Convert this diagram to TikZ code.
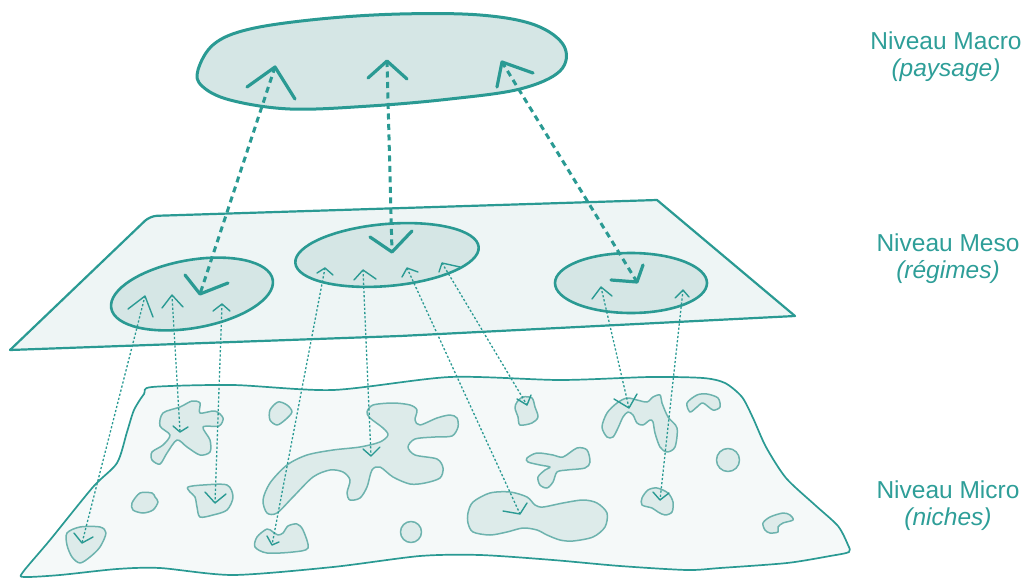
\documentclass[tikz,border=0pt]{standalone}
\usepackage{fontspec}
\setmainfont{Liberation Sans}
\usetikzlibrary{shapes.geometric}
\definecolor{tealline}{HTML}{2A9A93}
\definecolor{macrofill}{HTML}{D5E6E5}
\definecolor{mesofill}{HTML}{EEF5F5}
\definecolor{microfill}{HTML}{F5F9F9}
\definecolor{blobfill}{HTML}{DDEBEA}
\definecolor{blobline}{HTML}{6DB3AE}
\definecolor{labelc}{HTML}{2E9E98}
\begin{document}
\begin{tikzpicture}[x=1pt,y=-1pt,line join=round,line cap=round,
  planeline/.style={draw=tealline,line width=2.2pt},
  microline/.style={draw=tealline,line width=1.7pt,fill=microfill},
  blob/.style={draw=blobline,line width=1.5pt,fill=blobfill},
  regime/.style={ellipse,draw=tealline,line width=2.6pt,fill=macrofill,inner sep=0pt},
  bigdash/.style={draw=tealline,line width=3pt,line cap=butt,dash pattern=on 6pt off 4.5pt},
  bigchev/.style={draw=tealline,line width=3.2pt},
  smalldot/.style={draw=tealline,line width=1.3pt,line cap=butt,dash pattern=on 2.2pt off 2pt},
  smallchev/.style={draw=tealline,line width=1.4pt},
  lab/.style={text=labelc,align=center,font=\fontsize{24.5}{27}\selectfont,inner sep=0pt}]
\useasboundingbox (0,0) rectangle (1036,578);

% ---------- micro level plane ----------
\draw[microline] plot[smooth cycle,tension=0.45] coordinates {
 (152,387) (233,385) (333,390) (450,377) (560,380) (650,377) (703,378) (725,383)
 (742,397) (753,418) (766,447) (786,478) (815,505) (838,526) (848,545) (849,552)
 (830,556) (787,563) (720,568) (687,570) (620,566) (553,560) (480,555) (420,556)
 (333,567) (233,575) (160,568) (117,569) (60,575) (24,577) (23,572) (50,540)
 (93,487) (117,463) (127,432) (134,410) (144,394)};

% ---------- niches ----------
\draw[blob] plot[smooth cycle] coordinates {(163,413) (180,407) (192,401) (200,403) (200,413) (215,411) (223,418) (219,426) (203,427) (210,440) (210,452) (200,455) (187,447) (177,440) (167,453) (160,464) (152,460) (152,452) (163,445) (170,435) (160,426)};
\draw[blob] plot[smooth cycle] coordinates {(270,410) (278,402) (287,405) (292,412) (285,420) (277,425) (270,420)};
\draw[blob] plot[smooth cycle] coordinates {(132,503) (140,493) (152,493) (155,497) (158,502) (153,510) (143,513) (133,510)};
\draw[blob] plot[smooth cycle] coordinates {(188,487) (203,485) (227,485) (233,497) (227,510) (213,515) (200,517) (197,507) (195,497) (190,492)};
\draw[blob] plot[smooth cycle] coordinates {(67,533) (80,527) (100,527) (106,533) (100,547) (90,557) (80,563) (72,557) (67,545)};
\draw[blob] plot[smooth cycle] coordinates {(257,537) (267,529) (273,532) (278,535) (283,533) (288,526) (297,524) (303,530) (308,548) (293,552) (267,553) (255,547)};
\draw[blob] plot[smooth cycle] coordinates {(267,513) (263,500) (270,483) (287,465) (307,455) (333,450) (360,447) (380,442) (388,435) (383,428) (370,418) (367,412) (373,405) (393,403) (410,405) (417,410) (415,420) (420,425) (437,418) (450,415) (457,418) (458,427) (452,436) (435,437) (415,439) (408,447) (415,455) (437,459) (443,468) (440,478) (425,483) (410,484) (393,477) (380,467) (372,470) (367,487) (360,498) (350,500) (347,493) (350,480) (343,472) (330,470) (313,477) (293,497) (277,513)};
\draw[blob] (411,532) circle[radius=10.5pt];
\draw[blob] plot[smooth cycle] coordinates {(517,402) (523,397) (532,398) (535,407) (538,417) (532,423) (520,425) (518,417) (515,408)};
\draw[blob] plot[smooth cycle] coordinates {(602,427) (607,413) (617,403) (627,398) (637,400) (647,402) (653,397) (660,395) (662,403) (668,417) (677,428) (675,447) (667,452) (660,447) (655,433) (653,422) (650,420) (643,425) (637,423) (633,415) (628,412) (623,417) (618,428) (613,437) (607,437)};
\draw[blob] plot[smooth cycle] coordinates {(687,403) (697,395) (707,394) (718,398) (720,407) (713,410) (703,403) (697,407) (690,412)};
\draw[blob] (728,460) circle[radius=11.5pt];
\draw[blob] plot[smooth cycle] coordinates {(527,458) (537,453) (553,455) (563,457) (577,448) (587,450) (590,462) (585,468) (567,470) (557,472) (553,482) (547,488) (540,485) (538,477) (545,470) (550,467) (540,465) (528,462)};
\draw[blob] plot[smooth cycle] coordinates {(468,513) (473,502) (490,493) (510,492) (527,497) (535,505) (543,507) (563,503) (583,500) (597,503) (607,513) (605,527) (593,537) (573,541) (560,540) (547,535) (537,530) (523,528) (507,532) (490,535) (473,532) (468,523)};
\draw[blob] plot[smooth cycle] coordinates {(642,498) (648,490) (657,488) (668,493) (673,502) (672,512) (665,515) (658,512) (652,508) (642,505)};
\draw[blob] plot[smooth cycle] coordinates {(763,523) (770,517) (783,513) (790,515) (793,520) (783,523) (778,527) (778,532) (770,533) (765,530)};

% ---------- meso level plane ----------
\draw[planeline,fill=mesofill] (10,350) [rounded corners=7pt] -- (150,216) [sharp corners] -- (657,200) -- (795,316) -- (400,336) -- cycle;

\node[regime,minimum width=164pt,minimum height=68pt,rotate=10] (mesoL) at (192,294) {};
\node[regime,minimum width=184pt,minimum height=62pt,rotate=5] (mesoM) at (387,255) {};
\node[regime,minimum width=152pt,minimum height=60pt] (mesoR) at (631,283) {};

% ---------- macro level ----------
\draw[draw=tealline,line width=3pt,fill=macrofill] plot[smooth cycle,tension=0.6] coordinates {
 (198,70) (214,44) (250,29) (320,19) (400,14) (480,15) (535,25) (564,46) (560,71)
 (520,89) (450,99) (370,106) (290,109) (230,100) (202,86)};

% ---------- end points ----------
\coordinate (T1) at (275,67);
\coordinate (T2) at (387,61);
\coordinate (T3) at (502,62);
\coordinate (B1) at (200,294);
\coordinate (B2) at (392,252);
\coordinate (B3) at (637,282);

\coordinate (L1t) at (145,296); \coordinate (L1b) at (82,543);
\coordinate (L2t) at (172,295); \coordinate (L2b) at (180,432);
\coordinate (L3t) at (222,304); \coordinate (L3b) at (215,503);
\coordinate (M1t) at (325,268); \coordinate (M1b) at (272,545);
\coordinate (M2t) at (363,270); \coordinate (M2b) at (371,456);
\coordinate (M3t) at (407,268); \coordinate (M3b) at (520,514);
\coordinate (M4t) at (442,263); \coordinate (M4b) at (527,405);
\coordinate (R1t) at (601,287); \coordinate (R1b) at (629,408);
\coordinate (R2t) at (683,290); \coordinate (R2b) at (660,500);

% ---------- macro <-> meso connectors ----------
\draw[bigdash] (T1) -- (B1);
\draw[bigdash] (T2) -- (B2);
\draw[bigdash] (T3) -- (B3);
\draw[bigchev] ([shift={(-28,20)}]T1) -- (T1) -- ([shift={(20,32)}]T1);
\draw[bigchev] ([shift={(-19,17)}]T2) -- (T2) -- ([shift={(20,18)}]T2);
\draw[bigchev] ([shift={(-5,25)}]T3) -- (T3) -- ([shift={(31,11)}]T3);
\draw[bigchev] ([shift={(-15,-19)}]B1) -- (B1) -- ([shift={(28,-11)}]B1);
\draw[bigchev] ([shift={(-22,-15)}]B2) -- (B2) -- ([shift={(20,-21)}]B2);
\draw[bigchev] ([shift={(-26,-2)}]B3) -- (B3) -- ([shift={(6,-17)}]B3);

% ---------- meso <-> micro connectors ----------
\draw[smalldot] (L1t) -- (L1b);
\draw[smalldot] (L2t) -- (L2b);
\draw[smalldot] (L3t) -- (L3b);
\draw[smalldot] (M1t) -- (M1b);
\draw[smalldot] (M2t) -- (M2b);
\draw[smalldot] (M3t) -- (M3b);
\draw[smalldot] (M4t) -- (M4b);
\draw[smalldot] (R1t) -- (R1b);
\draw[smalldot] (R2t) -- (R2b);

\draw[smallchev] ([shift={(-17,13)}]L1t) -- (L1t) -- ([shift={(8,21)}]L1t);
\draw[smallchev] ([shift={(-8,-10)}]L1b) -- (L1b) -- ([shift={(11,-6)}]L1b);
\draw[smallchev] ([shift={(-10,13)}]L2t) -- (L2t) -- ([shift={(11,12)}]L2t);
\draw[smallchev] ([shift={(-7,-6)}]L2b) -- (L2b) -- ([shift={(8,-5)}]L2b);
\draw[smallchev] ([shift={(-9,7)}]L3t) -- (L3t) -- ([shift={(8,7)}]L3t);
\draw[smallchev] ([shift={(-10,-11)}]L3b) -- (L3b) -- ([shift={(11,-9)}]L3b);
\draw[smallchev] ([shift={(-8,5)}]M1t) -- (M1t) -- ([shift={(8,7)}]M1t);
\draw[smallchev] ([shift={(-5,-9)}]M1b) -- (M1b) -- ([shift={(7,-3)}]M1b);
\draw[smallchev] ([shift={(-9,10)}]M2t) -- (M2t) -- ([shift={(13,9)}]M2t);
\draw[smallchev] ([shift={(-8,-7)}]M2b) -- (M2b) -- ([shift={(9,-9)}]M2b);
\draw[smallchev] ([shift={(-5,9)}]M3t) -- (M3t) -- ([shift={(11,4)}]M3t);
\draw[smallchev] ([shift={(-17,-3)}]M3b) -- (M3b) -- ([shift={(7,-11)}]M3b);
\draw[smallchev] ([shift={(-3,9)}]M4t) -- (M4t) -- ([shift={(18,4)}]M4t);
\draw[smallchev] ([shift={(-10,-6)}]M4b) -- (M4b) -- ([shift={(4,-10)}]M4b);
\draw[smallchev] ([shift={(-9,12)}]R1t) -- (R1t) -- ([shift={(11,9)}]R1t);
\draw[smallchev] ([shift={(-15,-9)}]R1b) -- (R1b) -- ([shift={(8,-14)}]R1b);
\draw[smallchev] ([shift={(-8,8)}]R2t) -- (R2t) -- ([shift={(6,7)}]R2t);
\draw[smallchev] ([shift={(-7,-8)}]R2b) -- (R2b) -- ([shift={(9,-7)}]R2b);

% ---------- labels ----------
\node[lab] (labMacro) at (946,57) {Niveau Macro\\\textit{(paysage)}};
\node[lab] (labMeso) at (948,259) {Niveau Meso\\\textit{(régimes)}};
\node[lab] (labMicro) at (948,506) {Niveau Micro\\\textit{(niches)}};
\end{tikzpicture}
\end{document}
